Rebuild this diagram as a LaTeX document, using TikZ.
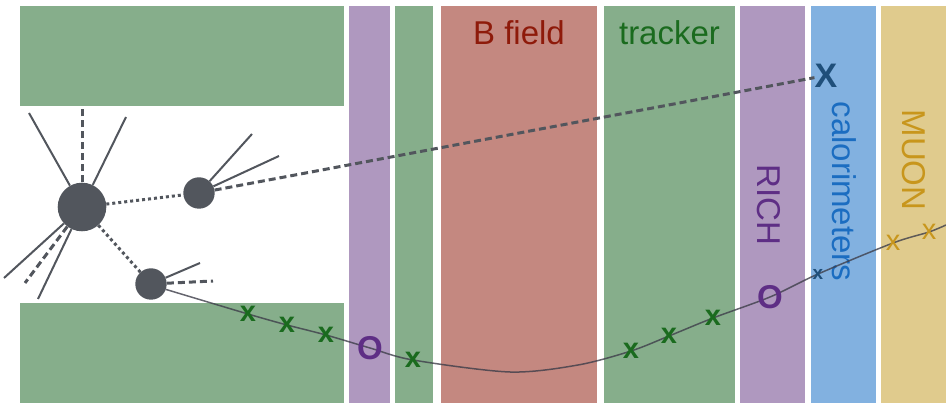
\documentclass[tikz,border=0pt]{standalone}
\usepackage{fontspec}
\setmainfont{Liberation Sans}
\usetikzlibrary{arrows.meta}

\definecolor{slabgreen}{HTML}{86AE8B}
\definecolor{slabpurple}{HTML}{AF98BF}
\definecolor{slabred}{HTML}{C48880}
\definecolor{slabblue}{HTML}{82B1E0}
\definecolor{slabgold}{HTML}{E0CB8D}
\definecolor{textred}{HTML}{8E1A0A}
\definecolor{textgreen}{HTML}{1A6B1E}
\definecolor{textpurple}{HTML}{5E2E85}
\definecolor{textblue}{HTML}{1B6DC1}
\definecolor{textgold}{HTML}{C8961C}
\definecolor{hitblue}{HTML}{1F4F7A}
\definecolor{ballgray}{HTML}{52565D}
\definecolor{trackgray}{HTML}{3E3E4A}

\tikzset{
  ball/.style={circle, fill=ballgray, inner sep=0pt, minimum size=#1},
  tag/.style={text=#1, inner sep=0pt, font=\fontsize{33}{36}\selectfont},
  hit/.style={text=#1, inner sep=0pt, font=\bfseries\fontsize{29}{30}\selectfont},
  prong/.style={draw=ballgray, line width=2pt},
  neutral/.style={draw=ballgray, line width=3pt, dash pattern=on 7pt off 4pt},
  flight/.style={draw=ballgray, line width=3pt, dash pattern=on 3pt off 3pt},
  track/.style={draw=trackgray, draw opacity=0.8, line width=1.5pt},
}

\begin{document}
\begin{tikzpicture}[x=1pt, y=-1pt]
        \useasboundingbox (0,0) rectangle (946,403);

        % Detector slabs
        \fill[slabgreen]  (20,6)   rectangle (344,106);
        \fill[slabgreen]  (20,303) rectangle (344,403);
        \fill[slabpurple] (349,6)  rectangle (390,403);
        \fill[slabgreen]  (395,6)  rectangle (433,403);
        \fill[slabred]    (441,6)  rectangle (597,403);
        \fill[slabgreen]  (604,6)  rectangle (735,403);
        \fill[slabpurple] (740,6)  rectangle (805,403);
        \fill[slabblue]   (811,6)  rectangle (876,403);
        \fill[slabgold]   (881,6)  rectangle (946,403);

        \node[tag=textred]   (bfield)  at (519,32.5)   {B field};
        \node[tag=textgreen] (tracker) at (669.5,32.5) {tracker};
        \node[tag=textpurple, rotate=-90] (rich) at (769,205)    {RICH};
        \node[tag=textblue,   rotate=-90] (calo) at (844,191.5)  {calorimeters};
        \node[tag=textgold,   rotate=-90] (muon) at (913.5,160)  {MUON};

        % Nodes
        \node[ball=48.6] (pv) at (82,207)  {};
        \node[ball=31.4] (b2) at (199,193) {};
        \node[ball=31.4] (b3) at (151,284) {};
        \node[text=hitblue, inner sep=0pt, font=\bfseries\fontsize{34}{36}\selectfont] (gamma) at (826,75.5) {X};

        \coordinate (p1) at (29,113);
        \coordinate (p2) at (82,109);
        \coordinate (p3) at (126,117);
        \coordinate (p4) at (4,278);
        \coordinate (p5) at (25,283);
        \coordinate (p6) at (38,299);
        \coordinate (q1) at (252,134);
        \coordinate (q2) at (279,156);
        \coordinate (r1) at (200,263);
        \coordinate (r2) at (213,281);

        % hits along the charged track
        \coordinate (t1) at (248,314);
        \coordinate (t2) at (287,325);
        \coordinate (t3) at (326,335);
        \coordinate (o1) at (370,348);
        \coordinate (t4) at (413,360);
        \coordinate (dip) at (510,372);
        \coordinate (rise) at (578,365);
        \coordinate (t5) at (631,351);
        \coordinate (t6) at (669,336);
        \coordinate (t7) at (713,318);
        \coordinate (o2) at (770,297);
        \coordinate (c1) at (818,274);
        \coordinate (m1) at (893,243);
        \coordinate (m2) at (929,232);
        \coordinate (exit) at (946,225);

        % Edges
        \draw[prong]   (pv) -- (p1);
        \draw[neutral] (pv) -- (p2);
        \draw[prong]   (pv) -- (p3);
        \draw[prong]   (pv) -- (p4);
        \draw[neutral] (pv) -- (p5);
        \draw[prong]   (pv) -- (p6);
        \draw[flight]  (pv) -- (b2);
        \draw[flight]  (pv) -- (b3);
        \draw[prong]   (b2) -- (q1);
        \draw[prong]   (b2) -- (q2);
        \draw[neutral] (b2) -- (gamma);
        \draw[prong]   (b3) -- (r1);
        \draw[neutral] (b3) -- (r2);
        \draw[track] plot[smooth, tension=0.5] coordinates {(b3.-20) (t1) (t2) (t3) (o1) (t4) (dip) (rise) (t5) (t6) (t7) (o2) (c1) (m1) (m2) (exit)};

        \foreach \h in {t1,t2,t3,t4,t5,t6,t7}
          \node[hit=textgreen] (x\h) at (\h) {x};
        \foreach \h in {o1,o2}
          \node[hit=textpurple, font=\bfseries\fontsize{33}{36}\selectfont] (x\h) at (\h) {O};
        \node[hit=hitblue, font=\bfseries\fontsize{19}{20}\selectfont] (xc1) at (c1) {x};
        \foreach \h in {m1,m2}
          \node[hit=textgold, font=\fontsize{29}{30}\selectfont] (x\h) at (\h) {x};

      \end{tikzpicture}
\end{document}
